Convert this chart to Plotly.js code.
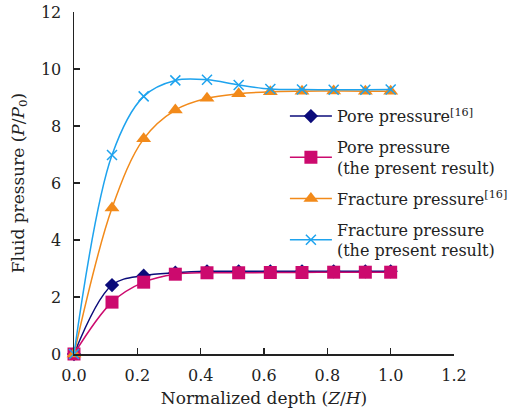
<!DOCTYPE html>
<html><head><meta charset="utf-8">
<script src="https://cdn.plot.ly/plotly-3.0.1.min.js"></script>
<style>html,body{margin:0;padding:0;background:#fff}#c{width:514px;height:416px}</style>
</head><body><div id="c"></div>
<script>
const depth = [0, 0.12, 0.22, 0.32, 0.42, 0.52, 0.62, 0.72, 0.82, 0.92, 1.0];
const porePressureRef = [0, 2.42, 2.75, 2.85, 2.9, 2.9, 2.9, 2.9, 2.9, 2.9, 2.9];
const porePressurePresent = [0, 1.82, 2.52, 2.8, 2.85, 2.85, 2.86, 2.86, 2.87, 2.87, 2.87];
const fracturePressureRef = [0, 5.12, 7.55, 8.56, 8.97, 9.13, 9.2, 9.22, 9.23, 9.22, 9.22];
const fracturePressurePresent = [0, 6.98, 9.04, 9.6, 9.62, 9.44, 9.3, 9.28, 9.27, 9.27, 9.28];
const seriesNames = [
  'Pore pressure<sup>[16]</sup>',
  'Pore pressure<br>(the present result)',
  'Fracture pressure<sup>[16]</sup>',
  'Fracture pressure<br>(the present result)'
];
const xTicks = [0, 0.2, 0.4, 0.6, 0.8, 1.0, 1.2];
const xTickText = ['0.0', '0.2', '0.4', '0.6', '0.8', '1.0', '1.2'];
const yTicks = [0, 2, 4, 6, 8, 10, 12];

const fontFam = 'DejaVu Serif';
function tr(y, name, color, symbol, size, grp) {
  return {
    x: depth, y: y, name: name, type: 'scatter', mode: 'lines+markers', legendgroup: grp,
    line: {color: color, width: 1.5, shape: 'spline', smoothing: 1},
    marker: {color: color, symbol: symbol, size: size, line: {color: color, width: symbol === 'x-thin' ? 1.5 : 0}},
    cliponaxis: false
  };
}
const data = [
  tr(porePressureRef, seriesNames[0], '#0b0b7a', 'diamond', 11, 'a'),
  tr(porePressurePresent, seriesNames[1], '#cc0a6e', 'square', 13, 'b'),
  tr(fracturePressureRef, seriesNames[2], '#f28a1a', 'triangle-up', 13, 'c'),
  tr(fracturePressurePresent, seriesNames[3], '#1ea3ee', 'x-thin', 10, 'd')
];
const layout = {
  width: 514, height: 416,
  margin: {l: 74, r: 60, t: 12, b: 62, autoexpand: false},
  paper_bgcolor: '#fff', plot_bgcolor: '#fff',
  font: {family: fontFam, size: 16, color: '#222'},
  showlegend: true,
  legend: {x: 0.555, y: 0.745, xanchor: 'left', yanchor: 'top', bgcolor: 'rgba(0,0,0,0)',
    font: {family: fontFam, size: 16, color: '#222'}, tracegroupgap: 7, itemwidth: 42},
  xaxis: {
    range: [0, 1.2], tickvals: xTicks, ticktext: xTickText,
    showline: true, linecolor: '#222', linewidth: 1.5, ticks: 'inside', ticklen: 6, tickwidth: 1.5, tickcolor: '#222',
    ticklabelstandoff: 6,
    showgrid: false, zeroline: false, tickfont: {family: fontFam, size: 16},
    title: {text: 'Normalized depth (<i>Z</i>/<i>H</i>)', font: {family: fontFam, size: 17}, standoff: 8}
  },
  yaxis: {
    range: [0, 12], tickvals: yTicks,
    showline: true, linecolor: '#222', linewidth: 1.5, ticks: 'inside', ticklen: 6, tickwidth: 1.5, tickcolor: '#222',
    ticklabelstandoff: 8,
    showgrid: false, zeroline: false, tickfont: {family: fontFam, size: 16},
    title: {text: 'Fluid pressure (<i>P</i>/<i>P</i><sub>0</sub>)', font: {family: fontFam, size: 17}, standoff: 12}
  }
};
Plotly.newPlot('c', data, layout, {displayModeBar: false, staticPlot: true});
</script></body></html>
